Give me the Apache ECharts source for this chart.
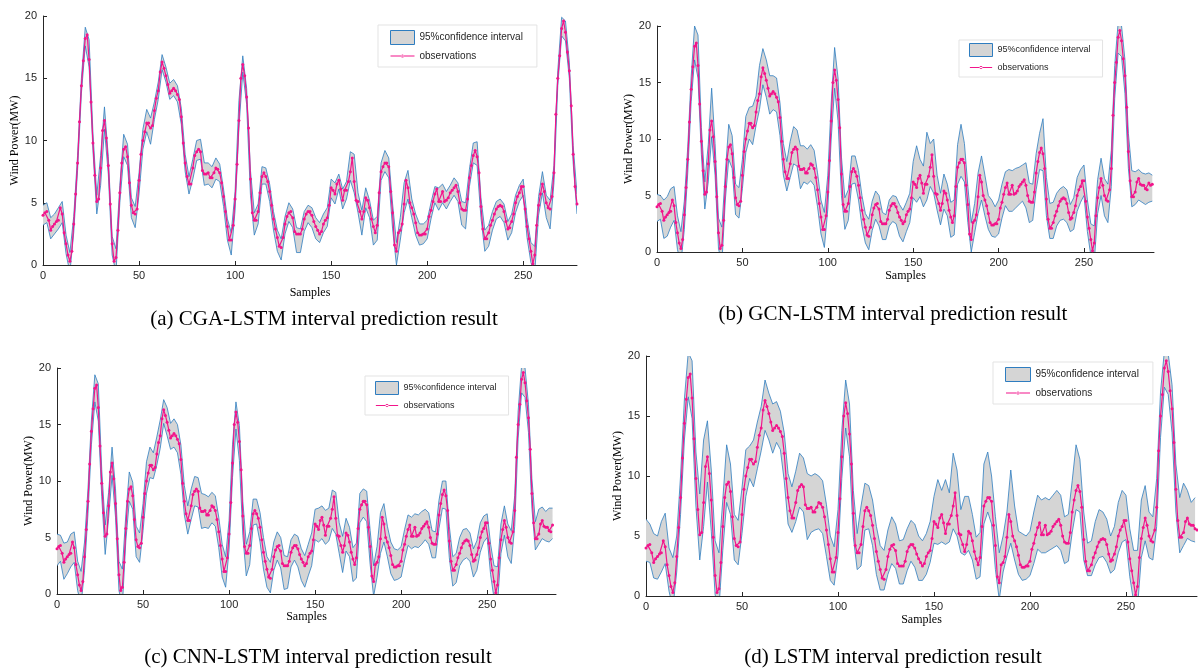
<!DOCTYPE html>
<html>
<head>
<meta charset="utf-8">
<title>Wind power interval prediction</title>
<script src="https://cdn.jsdelivr.net/npm/echarts@6.0.0/dist/echarts.min.js"></script>
<style>
    html, body { margin: 0; padding: 0; background: #fff; }
    #chart { width: 1198px; height: 669px; }
</style>
</head>
<body>
<div id="chart"></div>
<script>
// Observed wind power (MW), one value per sample 0..290
var observations = [
    4.0, 4.2, 4.3, 3.6, 2.8, 3.1, 3.3, 3.5, 3.6, 4.6,
    4.1, 2.6, 1.7, 0.8, 0.3, 1.1, 3.3, 5.7, 8.2, 11.5,
    14.4, 16.4, 18.2, 18.5, 16.5, 13.1, 9.8, 7.2, 5.1, 5.3,
    7.8, 10.8, 11.6, 10.2, 8.0, 4.9, 1.7, 0.3, 0.6, 2.8,
    5.8, 8.2, 9.3, 9.5, 8.7, 6.6, 4.8, 4.2, 4.1, 4.5,
    6.8, 8.9, 10.0, 10.7, 11.4, 11.4, 11.0, 11.2, 12.4, 13.4,
    14.0, 15.5, 16.3, 15.8, 15.2, 14.5, 13.8, 14.0, 14.2, 14.0,
    13.7, 13.3, 11.9, 9.8, 8.2, 7.1, 6.5, 6.5, 7.8, 8.8,
    9.1, 9.3, 9.1, 7.6, 7.3, 7.3, 7.4, 7.0, 7.0, 7.4,
    7.8, 7.7, 7.4, 6.6, 5.5, 4.3, 3.1, 2.0, 2.0, 3.2,
    5.3, 8.1, 11.6, 15.0, 16.1, 15.2, 13.5, 11.0, 6.9, 4.2,
    3.6, 3.6, 4.3, 5.8, 7.1, 7.4, 7.1, 6.7, 5.9, 4.8,
    3.7, 2.9, 2.2, 1.5, 1.4, 2.2, 3.3, 3.9, 4.2, 4.3,
    3.8, 2.7, 2.5, 2.5, 2.5, 2.9, 3.7, 4.1, 4.3, 4.3,
    4.0, 3.5, 3.1, 2.8, 2.5, 2.7, 3.3, 3.6, 3.8, 4.8,
    6.2, 6.0, 5.7, 6.5, 6.8, 6.1, 5.2, 6.0, 6.0, 6.7,
    7.5, 8.6, 6.7, 5.2, 5.1, 4.3, 3.7, 4.3, 5.4, 5.2,
    4.6, 3.7, 3.1, 2.6, 3.2, 5.8, 7.5, 7.9, 8.2, 8.2,
    7.9, 5.9, 4.2, 1.6, 1.1, 2.6, 2.8, 3.3, 4.9, 6.8,
    6.2, 5.0, 4.6, 4.1, 3.4, 2.6, 2.4, 2.4, 2.5, 2.5,
    2.9, 3.9, 4.4, 5.1, 5.7, 6.1, 5.1, 5.1, 5.9, 5.1,
    5.2, 5.4, 5.8, 6.0, 6.2, 6.4, 5.9, 5.0, 4.5, 4.4,
    4.4, 5.3, 7.0, 8.0, 8.8, 9.2, 8.7, 7.4, 4.7, 2.9,
    2.1, 2.1, 2.6, 3.2, 3.6, 4.1, 4.5, 4.7, 4.8, 4.7,
    4.3, 3.5, 2.9, 3.0, 3.5, 4.1, 5.0, 5.5, 5.8, 6.3,
    6.3, 4.5, 3.1, 2.1, 1.1, 0.1, 0.8, 3.2, 4.8, 5.7,
    6.5, 5.9, 5.0, 4.6, 4.5, 5.5, 7.4, 12.1, 15.0, 16.8,
    19.0, 19.6, 18.7, 17.1, 15.6, 12.8, 8.9, 6.3, 4.9, 4.9,
    5.3, 6.2, 6.5, 6.0, 5.9, 5.9, 5.6, 5.5, 6.1, 5.9, 6.0
];

// 95% confidence interval bounds, read every 2 samples (0, 2, 4, ...)
var upperCGA = [
    4.8, 5.0, 3.8, 4.1, 4.6, 5.1, 2.4, 1.0, 3.9, 8.8,
    15.0, 19.1, 18.1, 10.6, 5.6, 8.8, 12.7, 8.7, 2.3, 1.3,
    6.4, 10.5, 9.7, 5.4, 4.7, 7.4, 10.9, 12.5, 11.8, 13.1,
    14.7, 16.9, 15.9, 14.6, 14.9, 14.4, 12.6, 8.9, 7.1, 8.5,
    10.0, 10.1, 8.2, 8.2, 7.9, 8.6, 8.1, 6.1, 3.7, 2.6,
    5.9, 13.2, 16.8, 14.2, 7.6, 4.2, 4.9, 7.9, 7.8, 6.5,
    4.3, 2.8, 2.1, 3.9, 5.0, 4.5, 3.0, 2.9, 4.3, 4.8,
    4.6, 3.8, 3.4, 4.1, 4.6, 6.9, 6.6, 7.3, 6.1, 6.7,
    9.1, 8.9, 5.8, 4.4, 6.2, 5.2, 3.6, 3.9, 8.2, 9.2,
    8.6, 4.9, 1.8, 3.8, 6.6, 7.6, 5.3, 4.1, 3.3, 3.3,
    3.6, 5.0, 6.3, 6.2, 6.5, 5.9, 6.4, 7.0, 6.6, 5.1,
    5.0, 7.7, 9.8, 9.9, 5.4, 2.8, 3.2, 4.3, 5.1, 5.3,
    4.9, 3.5, 4.1, 5.6, 6.4, 6.9, 3.8, 1.8, 1.5, 5.5,
    7.5, 5.6, 5.2, 8.0, 15.6, 19.9, 19.6, 16.3, 9.6, 5.7
];
var lowerCGA = [
    3.2, 3.4, 2.1, 2.5, 2.9, 3.4, 0.9, -0.6, 2.6, 7.6,
    13.8, 17.6, 15.9, 9.2, 4.1, 6.4, 10.9, 7.3, 0.8, -0.6,
    5.0, 8.7, 8.0, 3.8, 3.0, 5.7, 9.3, 10.7, 9.7, 11.7,
    13.3, 15.7, 14.7, 13.3, 13.6, 13.1, 11.3, 7.5, 5.7, 6.9,
    8.4, 8.5, 6.4, 6.5, 6.2, 6.9, 6.7, 4.7, 2.0, 0.8,
    4.4, 11.0, 15.5, 12.9, 5.6, 2.4, 3.3, 6.5, 6.5, 5.1,
    2.8, 1.1, 0.4, 2.5, 3.5, 3.0, 1.0, 1.0, 2.7, 3.4,
    3.0, 2.1, 1.8, 2.6, 3.1, 5.4, 4.9, 6.1, 4.5, 5.3,
    6.8, 5.8, 4.2, 2.4, 4.6, 3.8, 1.6, 2.0, 6.8, 7.5,
    7.0, 2.9, 0.0, 2.0, 4.2, 5.3, 3.8, 2.4, 1.6, 1.7,
    2.1, 3.7, 5.0, 4.4, 5.0, 4.5, 5.1, 5.6, 5.1, 3.2,
    2.9, 6.3, 8.2, 8.0, 3.8, 1.1, 1.5, 2.8, 3.7, 3.9,
    3.4, 2.0, 2.6, 4.2, 5.1, 5.6, 2.2, 0.2, -0.6, 4.0,
    5.8, 3.8, 2.9, 6.6, 14.4, 18.4, 18.0, 15.0, 8.2, 4.1
];

var upperGCN = [
    5.1, 5.0, 4.6, 4.9, 5.6, 5.8, 3.2, 1.8, 4.5, 9.3,
    15.5, 20.0, 19.2, 11.0, 6.2, 9.5, 14.5, 9.6, 3.0, 2.2,
    7.0, 11.3, 10.3, 6.0, 5.7, 8.2, 12.0, 12.8, 12.9, 13.8,
    16.5, 18.0, 17.0, 15.6, 15.6, 15.4, 13.2, 9.6, 8.0, 9.8,
    11.1, 10.8, 9.4, 9.4, 9.1, 9.5, 9.0, 7.0, 4.6, 3.5,
    6.8, 13.2, 18.1, 15.4, 8.4, 4.8, 5.5, 8.5, 8.5, 7.2,
    5.0, 3.4, 2.9, 4.5, 5.4, 5.0, 3.5, 3.3, 4.6, 5.0,
    4.9, 4.2, 3.7, 4.4, 5.2, 8.0, 9.4, 8.2, 7.6, 10.6,
    9.6, 10.0, 6.8, 5.2, 6.9, 6.0, 4.4, 4.6, 9.5, 11.3,
    9.6, 5.8, 2.6, 4.3, 7.0, 8.5, 6.8, 5.0, 4.6, 4.0,
    4.6, 6.0, 7.1, 7.3, 7.2, 7.4, 7.5, 7.7, 7.9, 6.1,
    6.0, 8.7, 10.5, 11.8, 6.6, 4.3, 4.4, 5.2, 5.6, 5.8,
    5.5, 4.2, 4.8, 6.6, 7.3, 7.7, 4.6, 2.5, 2.3, 6.4,
    8.3, 6.5, 6.0, 9.0, 16.5, 20.3, 20.0, 17.0, 10.5, 7.2,
    7.1, 7.3, 7.0, 6.9, 7.0, 6.8
];
var lowerGCN = [
    2.7, 2.9, 1.2, 1.4, 2.2, 2.8, 0.2, -1.0, 2.0, 7.0,
    13.3, 17.0, 15.4, 8.6, 3.8, 6.2, 10.2, 6.8, 0.3, -1.0,
    4.6, 8.2, 7.4, 3.3, 3.0, 5.6, 8.8, 10.0, 9.5, 11.2,
    12.6, 14.8, 13.7, 12.2, 12.6, 12.4, 10.3, 6.8, 5.4, 6.6,
    7.8, 7.6, 5.6, 6.2, 6.0, 6.3, 5.9, 4.0, 1.6, 0.4,
    3.8, 10.0, 14.5, 11.6, 5.0, 2.0, 2.8, 6.0, 6.1, 4.6,
    2.3, 0.8, 0.2, 1.9, 2.9, 2.3, 1.1, 1.1, 2.3, 2.7,
    2.5, 1.4, 0.9, 1.8, 2.6, 4.8, 4.4, 4.9, 4.0, 4.6,
    5.8, 5.2, 3.7, 2.4, 3.8, 3.2, 1.3, 1.5, 6.0, 6.7,
    6.2, 2.6, 0.0, 1.7, 3.4, 4.6, 3.2, 2.0, 1.4, 1.3,
    1.6, 3.0, 4.1, 3.6, 3.6, 3.9, 4.2, 4.5, 3.9, 2.6,
    2.8, 5.5, 7.3, 7.2, 3.2, 1.2, 1.2, 2.3, 2.8, 2.9,
    2.6, 1.8, 2.0, 3.6, 4.4, 5.0, 1.8, -0.3, -0.9, 3.4,
    5.0, 3.2, 2.6, 5.8, 13.6, 17.6, 17.3, 14.0, 7.4, 4.0,
    4.2, 4.6, 4.4, 4.2, 4.4, 4.5
];

var upperCNN = [
    5.3, 5.2, 4.5, 4.6, 5.3, 5.5, 2.9, 2.0, 4.6, 9.3,
    15.4, 19.4, 18.6, 11.0, 6.1, 9.0, 13.0, 9.3, 2.9, 2.2,
    7.0, 10.8, 9.9, 6.0, 5.4, 8.0, 11.7, 13.0, 12.5, 13.9,
    15.4, 17.2, 16.5, 15.1, 15.5, 15.0, 13.2, 9.6, 7.8, 9.3,
    10.4, 10.3, 8.9, 8.8, 8.6, 9.0, 8.7, 6.8, 4.4, 3.3,
    6.5, 13.2, 17.0, 14.9, 8.2, 4.4, 5.5, 8.4, 8.4, 7.2,
    5.0, 3.3, 2.8, 4.6, 5.5, 5.0, 3.4, 3.3, 4.8, 5.3,
    5.1, 4.0, 3.4, 4.4, 5.4, 7.5, 7.6, 7.8, 7.4, 7.6,
    9.2, 9.0, 6.3, 5.1, 6.7, 5.9, 4.1, 4.5, 8.9, 9.3,
    9.1, 5.6, 2.5, 4.2, 7.2, 8.0, 6.0, 4.6, 4.0, 3.9,
    4.2, 5.7, 7.0, 6.8, 7.1, 7.0, 7.3, 7.5, 7.2, 5.6,
    5.5, 8.3, 10.0, 10.0, 6.0, 3.3, 3.6, 5.0, 5.7, 5.8,
    5.4, 4.0, 4.7, 6.3, 6.9, 7.1, 4.4, 2.5, 2.4, 6.2,
    7.8, 6.2, 5.6, 8.7, 16.2, 20.2, 20.0, 16.8, 10.2, 6.4,
    7.5, 7.7, 7.3, 7.6, 7.6
];
var lowerCNN = [
    2.5, 2.9, 1.3, 1.8, 2.4, 2.8, 0.3, -0.9, 2.1, 7.1,
    13.2, 17.0, 15.3, 8.6, 3.5, 6.7, 10.5, 6.8, 0.3, -1.0,
    4.7, 8.2, 7.5, 3.3, 2.8, 5.6, 8.9, 10.3, 10.2, 11.4,
    12.9, 15.1, 14.0, 12.8, 13.0, 12.5, 10.6, 7.0, 5.3, 6.6,
    7.8, 7.7, 5.8, 5.9, 5.8, 6.3, 6.0, 4.1, 1.5, 0.6,
    3.9, 10.3, 14.6, 11.8, 5.2, 1.6, 2.6, 6.1, 6.2, 4.6,
    2.2, 0.6, 0.1, 2.1, 3.0, 2.3, 0.4, 0.5, 2.4, 3.0,
    2.4, 1.2, 0.6, 1.6, 2.5, 4.8, 4.6, 4.9, 4.4, 4.7,
    5.8, 5.3, 3.6, 1.9, 3.8, 3.3, 1.1, 1.4, 6.3, 6.8,
    6.4, 2.6, -0.2, 1.5, 3.6, 4.6, 3.3, 1.8, 1.2, 1.3,
    1.5, 3.0, 4.3, 4.0, 4.2, 4.1, 4.4, 4.8, 4.4, 3.2,
    3.2, 5.8, 7.6, 7.5, 3.2, 0.7, 1.0, 2.5, 3.0, 3.2,
    2.9, 1.5, 2.1, 3.7, 4.6, 5.0, 1.7, -0.4, -0.9, 3.6,
    5.2, 3.3, 2.7, 6.0, 13.8, 17.8, 17.4, 14.3, 7.6, 3.9,
    4.4, 4.9, 4.7, 4.6, 4.9
];

var upperLSTM = [
    6.4, 6.0, 5.2, 5.0, 6.2, 6.9, 4.0, 3.2, 5.0, 10.0,
    16.4, 20.3, 19.6, 12.0, 8.5, 13.0, 14.6, 10.5, 4.6, 3.6,
    8.0, 12.6, 11.0, 6.8, 6.3, 9.0, 12.2, 12.5, 13.0, 14.5,
    15.8, 18.0, 16.9, 16.0, 16.2, 15.4, 13.6, 10.2, 9.1, 10.4,
    11.9, 11.5, 10.2, 10.0, 10.2, 10.0, 9.6, 7.6, 5.0, 4.1,
    7.2, 13.8, 18.0, 16.0, 8.8, 5.2, 7.5, 9.4, 9.2, 8.0,
    5.8, 4.2, 3.8, 5.5, 6.6, 6.0, 4.6, 4.7, 5.6, 6.3,
    6.0, 5.0, 4.6, 5.2, 6.2, 8.3, 9.7, 8.8, 9.7, 8.6,
    11.9, 10.5, 7.2, 8.3, 8.3, 6.8, 4.9, 5.3, 11.0, 12.0,
    10.0, 6.6, 3.6, 5.0, 7.0, 10.5, 7.5, 5.4, 5.2, 5.0,
    5.4, 7.0, 8.4, 8.0, 8.2, 8.0, 8.4, 8.8, 8.4, 6.6,
    6.8, 9.6, 12.6, 11.4, 7.0, 4.4, 4.6, 6.2, 7.2, 7.0,
    6.4, 5.0, 5.8, 7.8, 8.8, 8.4, 5.6, 3.8, 3.8, 8.0,
    9.2, 7.0, 6.6, 9.8, 17.0, 20.4, 20.2, 17.6, 11.0, 8.2,
    9.4, 8.8, 7.8, 8.2
];
var lowerLSTM = [
    2.9, 2.8, 1.5, 1.4, 2.0, 2.7, 0.4, -1.0, 2.0, 6.8,
    13.0, 16.6, 14.8, 7.5, 3.0, 5.8, 9.5, 5.4, 0.1, -1.0,
    3.8, 7.8, 6.8, 3.0, 2.6, 5.2, 8.3, 9.8, 9.1, 10.6,
    12.1, 13.8, 13.0, 11.9, 12.8, 12.2, 9.6, 6.0, 5.3, 6.2,
    7.4, 7.0, 4.7, 5.3, 5.5, 5.6, 5.2, 3.3, 1.3, 0.9,
    3.4, 9.8, 14.0, 11.6, 4.9, 2.2, 2.5, 5.5, 5.6, 4.2,
    1.8, 0.5, 0.5, 1.8, 2.7, 2.3, 1.0, 1.0, 2.1, 2.9,
    2.4, 1.3, 1.3, 1.8, 2.8, 4.4, 4.3, 4.5, 4.3, 4.5,
    5.6, 5.0, 3.6, 3.4, 3.8, 3.0, 1.4, 1.6, 6.0, 7.0,
    6.0, 2.2, -0.3, 2.0, 3.3, 4.4, 3.0, 1.8, 1.3, 1.4,
    1.7, 2.7, 3.9, 3.6, 3.6, 3.8, 4.0, 4.2, 3.8, 2.7,
    2.9, 5.3, 7.2, 7.0, 3.0, 1.7, 1.7, 2.6, 3.2, 3.3,
    2.8, 1.9, 2.2, 3.6, 4.5, 4.7, 1.6, -0.5, -1.0, 3.2,
    4.6, 3.2, 3.0, 5.8, 13.2, 17.4, 16.8, 13.6, 7.0, 3.6,
    4.2, 4.8, 4.6, 4.5
];

var bandStep = 2;
var xTicks = [0, 50, 100, 150, 200, 250];
var yTicks = [0, 5, 10, 15, 20];
var titles = [
    '(a) CGA-LSTM interval prediction result',
    '(b) GCN-LSTM interval prediction result',
    '(c) CNN-LSTM interval prediction result',
    '(d) LSTM interval prediction result'
];
var bandName = '95%confidence interval';
var obsName = 'observations';

var blue = '#2e7dc0';
var grey = '#d5d5d5';
var pink = '#f2158b';
var ink = '#262626';

// legend glyph for the observations: thin line with a small dot (24 x 14 box)
var obsIcon = 'path://M0,0h0.01v0.01h-0.01z M0,13.99h0.01v0.01h-0.01z ' +
    'M0,6.45h24v1.1h-24z M10.4,7a1.6,1.6 0 1,0 3.2,0a1.6,1.6 0 1,0 -3.2,0z';

// Panel layout (pixel positions of each axes box, legend and caption)
var panels = [
    { upper: upperCGA, lower: lowerCGA, lastSample: 278, xMax: 278,
      grid: { left: 43, top: 16, width: 534, height: 249 }, gapX: 22, gapY: 21,
      legend: { left: 378, top: 25, padding: [5, 14, 4, 12], w: 24, h: 14, font: 10 },
      caption: [324, 319] },
    { upper: upperGCN, lower: lowerGCN, lastSample: 290, xMax: 291,
      grid: { left: 657, top: 26, width: 497, height: 226 }, gapX: 18, gapY: 18,
      legend: { left: 959, top: 40, padding: [3, 12, 3, 10], w: 23, h: 13, font: 9 },
      caption: [893, 314] },
    { upper: upperCNN, lower: lowerCNN, lastSample: 288, xMax: 290,
      grid: { left: 57, top: 368, width: 499, height: 226 }, gapX: 17, gapY: 18,
      legend: { left: 365, top: 376, padding: [5, 12, 3, 10], w: 23, h: 13, font: 9 },
      caption: [318, 657] },
    { upper: upperLSTM, lower: lowerLSTM, lastSample: 287, xMax: 287,
      grid: { left: 646, top: 356, width: 551, height: 240 }, gapX: 18, gapY: 18,
      legend: { left: 993, top: 362, padding: [5, 14, 4, 12], w: 25, h: 14, font: 10 },
      caption: [893, 657] }
];

// draws the whole interval as one filled polygon with blue edges
function bandRenderer(p) {
    return function (params, api) {
        if (params.dataIndex !== 0) {
            return null;
        }
        var top = [], bottom = [];
        for (var k = 0; k < p.upper.length; k++) {
            top.push(api.coord([k * bandStep, p.upper[k]]));
            bottom.push(api.coord([k * bandStep, p.lower[k]]));
        }
        var cs = params.coordSys;
        return {
            type: 'group',
            clipPath: { type: 'rect', shape: { x: cs.x, y: cs.y, width: cs.width, height: cs.height } },
            children: [
                { type: 'polygon', shape: { points: top.concat(bottom.slice().reverse()) },
                  style: { fill: grey } },
                { type: 'polyline', shape: { points: top },
                  style: { stroke: blue, lineWidth: 0.8, fill: null } },
                { type: 'polyline', shape: { points: bottom },
                  style: { stroke: blue, lineWidth: 0.8, fill: null } }
            ]
        };
    };
}

var chart = echarts.init(document.getElementById('chart'), null, { renderer: 'canvas' });

var grids = [], xAxes = [], yAxes = [], series = [], legends = [], graphics = [];

panels.forEach(function (p, i) {
    grids.push(p.grid);

    xAxes.push({
        gridIndex: i,
        type: 'value',
        min: 0,
        max: p.xMax,
        interval: 50,
        name: 'Samples',
        nameLocation: 'middle',
        nameGap: p.gapX,
        nameTextStyle: { fontFamily: 'Liberation Serif', fontSize: 12, color: '#000' },
        axisLine: { show: true, onZero: false, lineStyle: { color: ink, width: 1 } },
        axisTick: { show: true, inside: true, length: 4, customValues: xTicks, lineStyle: { color: ink } },
        axisLabel: { customValues: xTicks, margin: 5, color: ink, fontSize: 11, fontFamily: 'Liberation Sans' },
        splitLine: { show: false }
    });

    yAxes.push({
        gridIndex: i,
        type: 'value',
        min: 0,
        max: 20,
        interval: 5,
        name: 'Wind Power(MW)',
        nameLocation: 'middle',
        nameRotate: 90,
        nameGap: p.gapY,
        nameTextStyle: { fontFamily: 'Liberation Serif', fontSize: 12, color: '#000' },
        axisLine: { show: true, onZero: false, lineStyle: { color: ink, width: 1 } },
        axisTick: { show: true, inside: true, length: 4, customValues: yTicks, lineStyle: { color: ink } },
        axisLabel: { customValues: yTicks, margin: 6, color: ink, fontSize: 11, fontFamily: 'Liberation Sans' },
        splitLine: { show: false }
    });

    series.push({
        name: bandName,
        type: 'custom',
        xAxisIndex: i,
        yAxisIndex: i,
        clip: true,
        silent: true,
        itemStyle: { color: grey, borderColor: blue },
        encode: { x: 0, y: [1, 2] },
        renderItem: bandRenderer(p),
        data: p.upper.map(function (v, k) { return [k * bandStep, p.lower[k], v]; })
    });

    series.push({
        name: obsName,
        type: 'line',
        xAxisIndex: i,
        yAxisIndex: i,
        symbol: 'circle',
        symbolSize: 3,
        lineStyle: { color: pink, width: 1.2 },
        itemStyle: { color: pink },
        data: observations.slice(0, p.lastSample + 1).map(function (v, k) { return [k, v]; })
    });

    legends.push({
        orient: 'vertical',
        left: p.legend.left,
        top: p.legend.top,
        padding: p.legend.padding,
        itemWidth: p.legend.w,
        itemHeight: p.legend.h,
        itemGap: 4,
        backgroundColor: '#fff',
        borderColor: '#e3e3e3',
        borderWidth: 1,
        selectedMode: false,
        textStyle: { fontFamily: 'Liberation Sans', fontSize: p.legend.font, color: ink },
        data: [
            { name: bandName, icon: 'rect', itemStyle: { color: grey, borderColor: blue, borderWidth: 1 } },
            { name: obsName, icon: obsIcon, itemStyle: { color: pink, borderWidth: 0 } }
        ]
    });

    graphics.push({
        type: 'text',
        x: p.caption[0],
        y: p.caption[1],
        style: {
            text: titles[i],
            textAlign: 'center',
            textVerticalAlign: 'middle',
            font: '21px "Liberation Serif"',
            fill: '#000'
        }
    });
});

chart.setOption({
    animation: false,
    backgroundColor: '#fff',
    grid: grids,
    xAxis: xAxes,
    yAxis: yAxes,
    legend: legends,
    series: series,
    graphic: graphics
});
</script>
</body>
</html>
